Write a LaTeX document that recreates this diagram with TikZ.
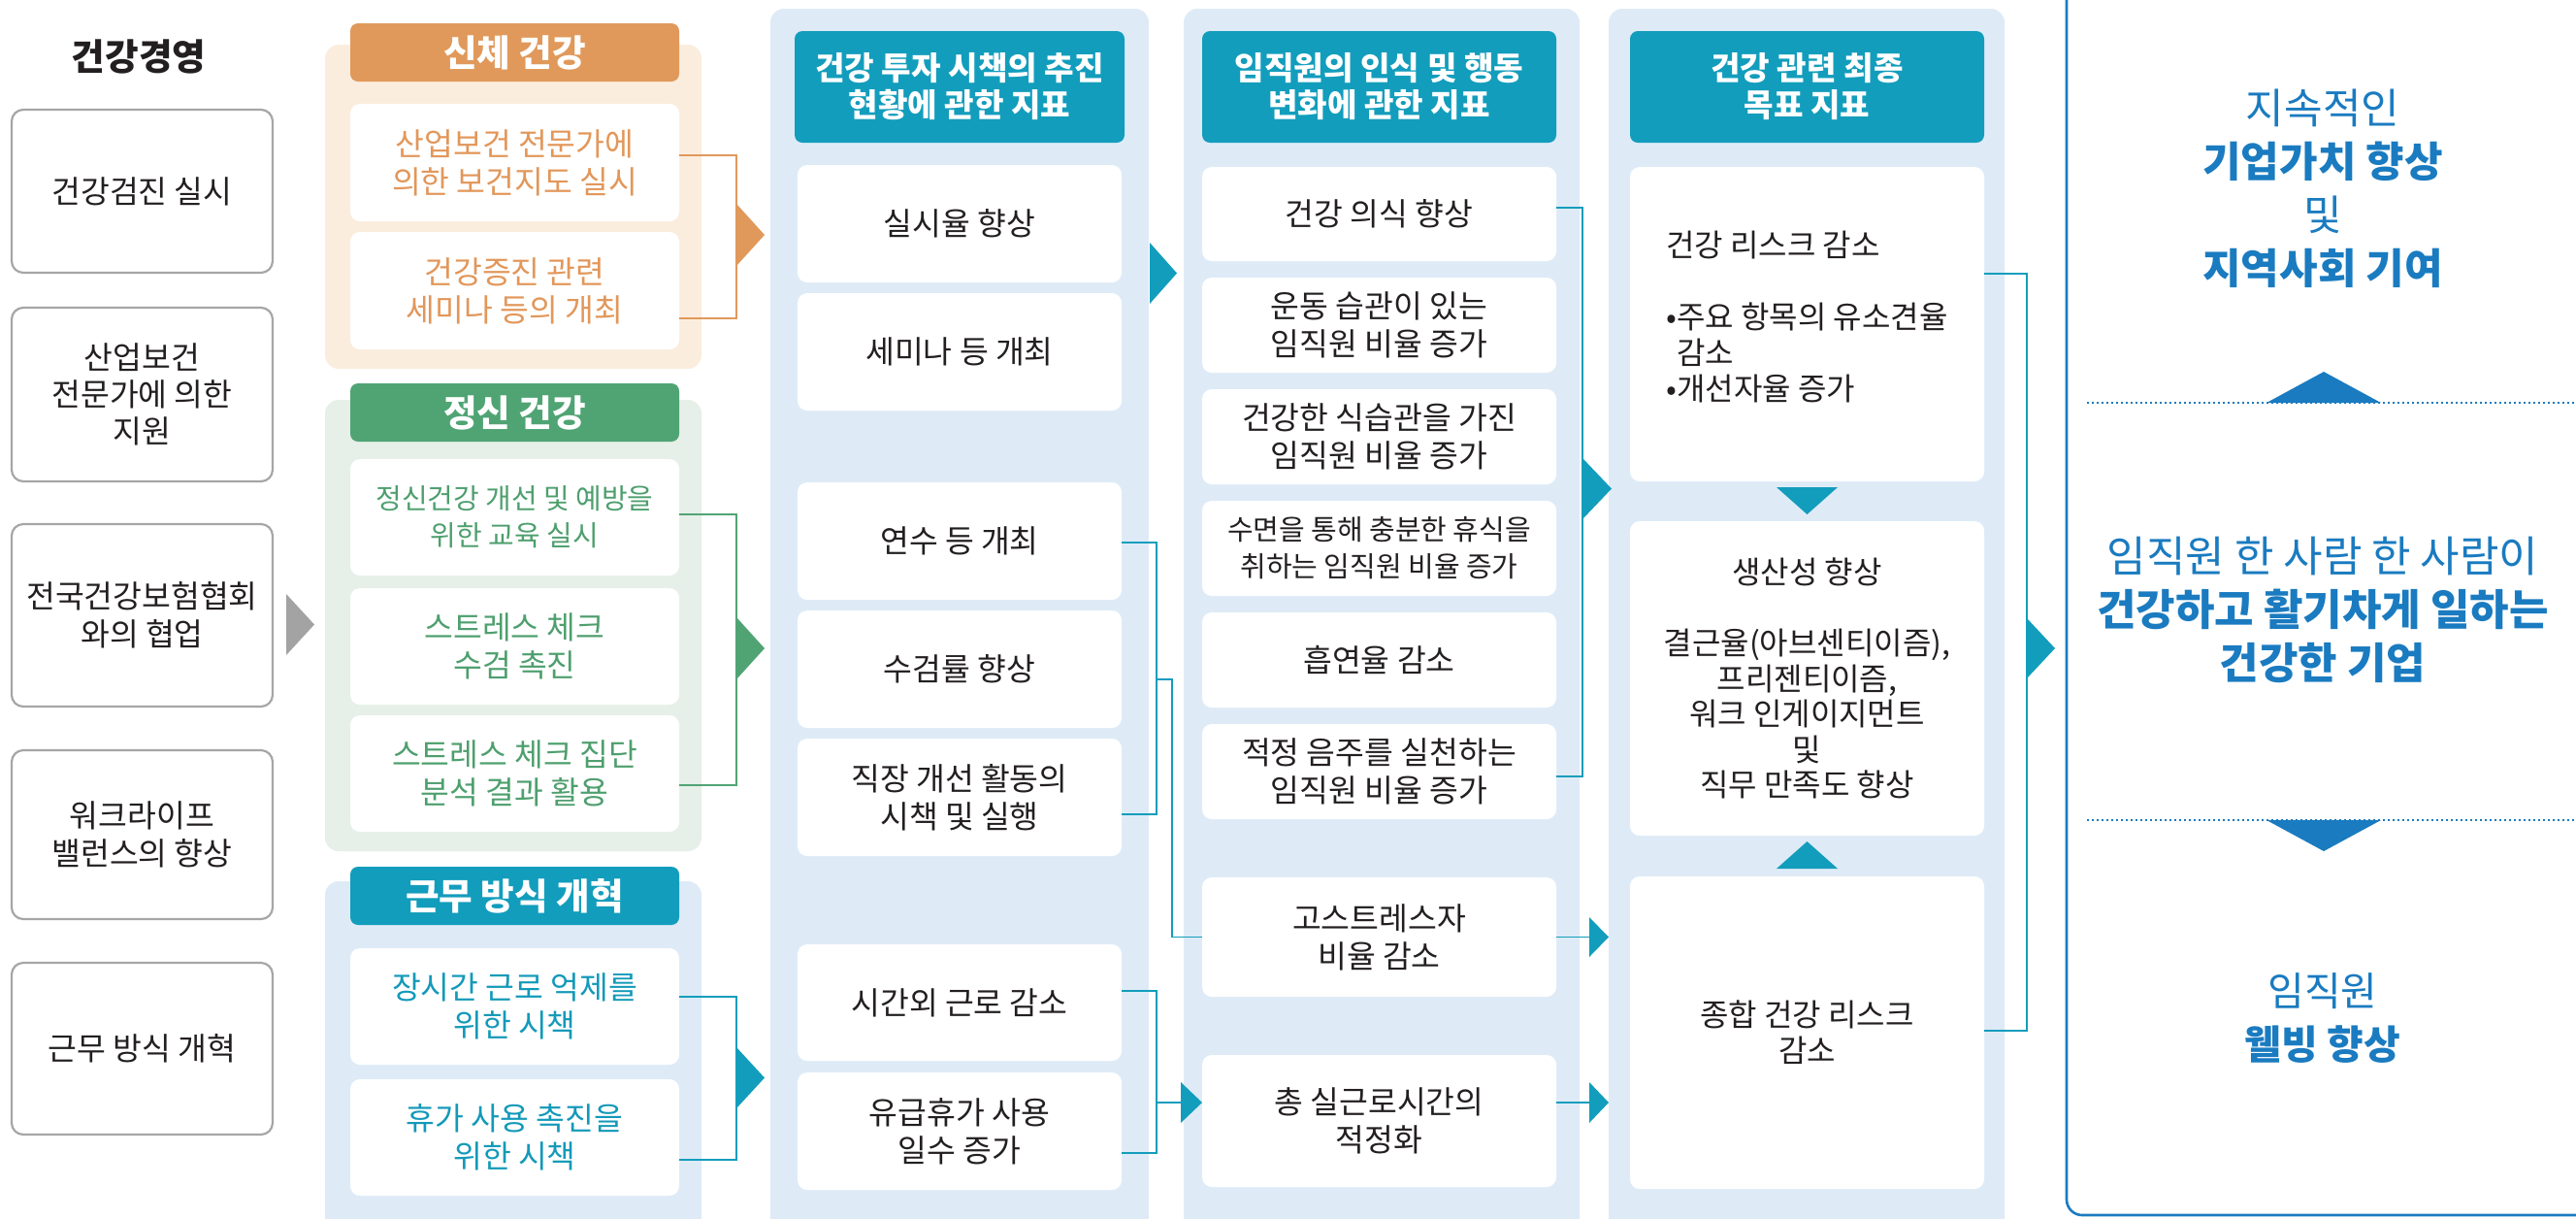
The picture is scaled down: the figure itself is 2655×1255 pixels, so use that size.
\documentclass[tikz,border=0pt]{standalone}
\usepackage{fontspec}
\setmainfont{Noto Sans CJK KR}
\definecolor{txt}{HTML}{231F20}
\definecolor{grayb}{HTML}{A6A6A6}
\definecolor{grayt}{HTML}{A3A3A3}
\definecolor{orH}{HTML}{E0995B}
\definecolor{orT}{HTML}{E2975A}
\definecolor{orB}{HTML}{FBEDDD}
\definecolor{grH}{HTML}{50A474}
\definecolor{grT}{HTML}{4E9F6E}
\definecolor{grB}{HTML}{E6EFE8}
\definecolor{tlH}{HTML}{139DBC}
\definecolor{tlT}{HTML}{1399B9}
\definecolor{tlB}{HTML}{DEEBF7}
\definecolor{blR}{HTML}{1A7BC0}
\newcommand\mkbox[7]{\node[#2, minimum width={(#5-#3)*0.5pt}, minimum height={(#6-#4)*0.5pt}] (#1) at ({(#3+#5)/2},{(#4+#6)/2}) {#7};}
\tikzset{
 base/.style={inner sep=0pt, outer sep=0pt, align=center, text=txt, font=\fontsize{16.2}{19.5}\selectfont},
 lbox/.style={base, draw=grayb, line width=1.1pt, fill=white, rounded corners=6pt},
 wbox/.style={base, fill=white, rounded corners=5pt},
 smallf/.style={font=\fontsize{14.5}{19}\selectfont},
 hdr/.style={base, rounded corners=4pt, text=white, font=\bfseries\fontsize{18.8}{21}\selectfont},
 chdr/.style={hdr, fill=tlH, font=\bfseries\fontsize{16.6}{19}\selectfont},
 panel/.style={inner sep=0pt, outer sep=0pt, rounded corners=7pt},
 conn/.style={line width=0.9pt},
}
\begin{document}
\begin{tikzpicture}[x=0.5pt, y=-0.5pt]
\clip (0,0) rectangle (2655,1255);
\fill[white] (0,0) rectangle (2655,1255);

% title and left boxes
\node[base, font=\bfseries\fontsize{18.8}{21}\selectfont] (title) at (143,58) {건강경영};
\mkbox{L1}{lbox}{12}{113}{281}{281}{건강검진 실시}
\mkbox{L2}{lbox, font=\fontsize{16.2}{19}\selectfont}{12}{317}{281}{496}{산업보건\\전문가에 의한\\지원}
\mkbox{L3}{lbox}{12}{540}{281}{728}{전국건강보험협회\\와의 협업}
\mkbox{L4}{lbox}{12}{773}{281}{947}{워크라이프\\밸런스의 향상}
\mkbox{L5}{lbox}{12}{992}{281}{1169}{근무 방식 개혁}
\fill[grayt] (295,612) -- (324,643.5) -- (295,675) -- cycle;

% panels
\mkbox{PO}{panel, fill=orB}{335}{46}{723}{380}{}
\mkbox{PG}{panel, fill=grB}{335}{412}{723}{877}{}
\mkbox{PT}{panel, fill=tlB}{335}{908}{723}{1290}{}
\mkbox{P1}{panel, fill=tlB}{794}{9}{1184}{1290}{}
\mkbox{P2}{panel, fill=tlB}{1220}{9}{1628}{1290}{}
\mkbox{P3}{panel, fill=tlB}{1658}{9}{2066}{1290}{}

% headers
\mkbox{HO}{hdr, fill=orH}{361}{24}{700}{84}{신체 건강}
\mkbox{HG}{hdr, fill=grH}{361}{395}{700}{455}{정신 건강}
\mkbox{HT}{hdr, fill=tlH}{361}{893}{700}{953}{근무 방식 개혁}
\mkbox{H1}{chdr}{819}{32}{1159}{147}{건강 투자 시책의 추진\\현황에 관한 지표}
\mkbox{H2}{chdr}{1239}{32}{1604}{147}{임직원의 인식 및 행동\\변화에 관한 지표}
\mkbox{H3}{chdr}{1680}{32}{2045}{147}{건강 관련 최종\\목표 지표}

% category items
\mkbox{O1}{wbox, text=orT}{361}{107}{700}{228}{산업보건 전문가에\\의한 보건지도 실시}
\mkbox{O2}{wbox, text=orT}{361}{239}{700}{360}{건강증진 관련\\세미나 등의 개최}
\mkbox{G1}{wbox, text=grT, smallf}{361}{473}{700}{593}{정신건강 개선 및 예방을\\위한 교육 실시}
\mkbox{G2}{wbox, text=grT}{361}{606}{700}{726}{스트레스 체크\\수검 촉진}
\mkbox{G3}{wbox, text=grT}{361}{737}{700}{857}{스트레스 체크 집단\\분석 결과 활용}
\mkbox{T1}{wbox, text=tlT}{361}{977}{700}{1097}{장시간 근로 억제를\\위한 시책}
\mkbox{T2}{wbox, text=tlT}{361}{1112}{700}{1232}{휴가 사용 촉진을\\위한 시책}

% column 1
\mkbox{C1a}{wbox}{822}{170}{1156}{291}{실시율 향상}
\mkbox{C1b}{wbox}{822}{302}{1156}{423}{세미나 등 개최}
\mkbox{C1c}{wbox}{822}{497}{1156}{618}{연수 등 개최}
\mkbox{C1d}{wbox}{822}{629}{1156}{750}{수검률 향상}
\mkbox{C1e}{wbox}{822}{761}{1156}{882}{직장 개선 활동의\\시책 및 실행}
\mkbox{C1f}{wbox}{822}{973}{1156}{1093}{시간외 근로 감소}
\mkbox{C1g}{wbox}{822}{1105}{1156}{1226}{유급휴가 사용\\일수 증가}

% column 2
\mkbox{C2a}{wbox}{1239}{172}{1604}{269}{건강 의식 향상}
\mkbox{C2b}{wbox}{1239}{286}{1604}{384}{운동 습관이 있는\\임직원 비율 증가}
\mkbox{C2c}{wbox}{1239}{401}{1604}{499}{건강한 식습관을 가진\\임직원 비율 증가}
\mkbox{C2d}{wbox, smallf}{1239}{516}{1604}{614}{수면을 통해 충분한 휴식을\\취하는 임직원 비율 증가}
\mkbox{C2e}{wbox}{1239}{631}{1604}{729}{흡연율 감소}
\mkbox{C2f}{wbox}{1239}{746}{1604}{844}{적정 음주를 실천하는\\임직원 비율 증가}
\mkbox{C2g}{wbox}{1239}{904}{1604}{1027}{고스트레스자\\비율 감소}
\mkbox{C2h}{wbox}{1239}{1087}{1604}{1223}{총 실근로시간의\\적정화}

% column 3
\mkbox{C3a}{wbox}{1680}{172}{2045}{496}{}
\node[base, align=left, font=\fontsize{16}{18.5}\selectfont, yshift=3.5pt] (C3atext) at (C3a.center) {건강 리스크 감소\\[18.5pt]•주요 항목의 유소견율\\\phantom{•}감소\\•개선자율 증가};
\mkbox{C3b}{wbox, font=\fontsize{16}{18.3}\selectfont}{1680}{537}{2045}{861}{생산성 향상\\[18.3pt]결근율(아브센티이즘),\\프리젠티이즘,\\워크 인게이지먼트\\및\\직무 만족도 향상}
\mkbox{C3c}{wbox, font=\fontsize{16}{18.5}\selectfont}{1680}{903}{2045}{1225}{종합 건강 리스크\\감소}
\fill[tlH] (1831,502) -- (1894,502) -- (1862.5,530) -- cycle;
\fill[tlH] (1831,895) -- (1894,895) -- (1862.5,867) -- cycle;

% category brackets
\draw[conn, orH] (O1.east |- 0,160) -- (759,160) -- (759,328) -- (O2.east |- 0,328);
\fill[orH] (759,210) -- (788,242) -- (759,274) -- cycle;
\draw[conn, grH] (G1.east |- 0,530) -- (759,530) -- (759,809) -- (G3.east |- 0,809);
\fill[grH] (759,636) -- (788,668) -- (759,700) -- cycle;
\draw[conn, tlH] (T1.east |- 0,1027) -- (759,1027) -- (759,1195) -- (T2.east |- 0,1195);
\fill[tlH] (759,1079) -- (788,1110.5) -- (759,1142) -- cycle;

% column 1 -> 2
\fill[tlH] (1185,250) -- (1213,281.5) -- (1185,313) -- cycle;
\draw[conn, tlH] (C1c.east |- 0,559) -- (1192,559) -- (1192,839) -- (C1e.east |- 0,839);
\draw[conn, tlH] (1192,700) -- (1208,700) |- (C2g.west);
\draw[conn, tlH] (C1f.east |- 0,1021) -- (1192,1021) -- (1192,1188) -- (C1g.east |- 0,1188);
\draw[conn, tlH] (1192,1136) -- (1217,1136);
\fill[tlH] (1217,1115) -- (C2h.west |- 0,1136) -- (1217,1157) -- cycle;

% column 2 -> 3
\draw[conn, tlH] (C2a.east |- 0,214) -- (1631,214) -- (1631,800) -- (C2f.east |- 0,800);
\fill[tlH] (1631,472) -- (1661,503.5) -- (1631,535) -- cycle;
\draw[conn, tlH] (C2g.east) -- (1638,965.5);
\fill[tlH] (1638,945) -- (1658,965.5) -- (1638,986) -- cycle;
\draw[conn, tlH] (C2h.east |- 0,1136) -- (1638,1136);
\fill[tlH] (1638,1115) -- (1658,1136) -- (1638,1157) -- cycle;

% column 3 -> right
\draw[conn, tlH] (C3a.east |- 0,282) -- (2089,282) -- (2089,1062) -- (C3c.east |- 0,1062);
\fill[tlH] (2089,637) -- (2118,668) -- (2089,699) -- cycle;

% right frame
\draw[blR, line width=1.3pt, rounded corners=8pt] (2130,-20) -- (2130,1252) -- (2700,1252);
\node[base, text=blR, font=\fontsize{21.5}{27.5}\selectfont] (R1) at (2394,194.5) {지속적인\\\textbf{기업가치 향상}\\및\\\textbf{지역사회 기여}};
\node[base, text=blR, font=\fontsize{22}{27.5}\selectfont] (R2) at (2394,628.5) {임직원 한 사람 한 사람이\\\textbf{건강하고 활기차게 일하는}\\\textbf{건강한 기업}};
\node[base, text=blR, font=\fontsize{20.5}{27.5}\selectfont] (R3) at (2394,1048.5) {임직원\\\textbf{웰빙 향상}};
\draw[blR, line width=1pt, dash pattern=on 0.9pt off 1.6pt] (2151,415) -- (2655,415);
\fill[blR] (2336,415) -- (2395,383) -- (2454,415) -- cycle;
\draw[blR, line width=1pt, dash pattern=on 0.9pt off 1.6pt] (2151,845) -- (2655,845);
\fill[blR] (2336,845) -- (2395,877) -- (2454,845) -- cycle;
\end{tikzpicture}
\end{document}
